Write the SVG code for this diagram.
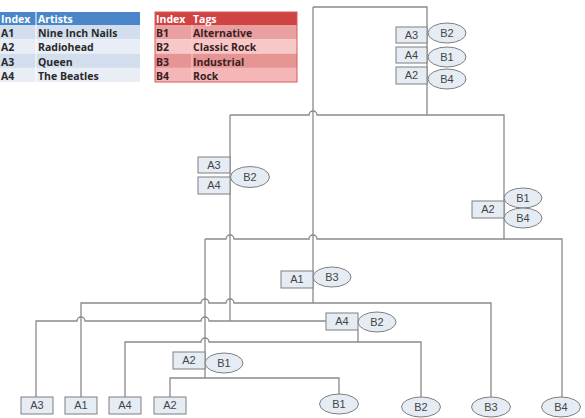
<svg xmlns="http://www.w3.org/2000/svg" width="585" height="418" viewBox="0 0 585 418">
<style>
.ln{fill:none;stroke:#8a8a8a;stroke-width:1.3}
.bx{fill:#e6ecf4;stroke:#7f7f7f;stroke-width:1}
.el{fill:#e6ecf4;stroke:#7f7f7f;stroke-width:1}
.t{font-family:"Liberation Sans",Arial,sans-serif;font-size:11px;fill:#444;text-anchor:middle}
.th{font-family:"Open Sans","Liberation Sans",sans-serif;font-size:10.5px;font-weight:bold}
</style>
<rect width="585" height="418" fill="#fff"/>
<g id="artists-table">
<rect x="0" y="12" width="140" height="13" fill="#4a86c8"/>
<rect x="0" y="25" width="140" height="14.3" fill="#d2deed"/>
<rect x="0" y="39.3" width="140" height="14.3" fill="#e9eef6"/>
<rect x="0" y="53.6" width="140" height="14.3" fill="#d2deed"/>
<rect x="0" y="67.9" width="140" height="14.1" fill="#e9eef6"/>
<line x1="36" y1="12" x2="36" y2="82" stroke="#fff" stroke-width="1"/>
<g class="th" fill="#fff"><text x="1" y="22.5">Index</text><text x="38" y="22.5">Artists</text></g>
<g class="th" fill="#2a2a2a">
<text x="1" y="36.5">A1</text><text x="38" y="36.5">Nine Inch Nails</text>
<text x="1" y="51">A2</text><text x="38" y="51">Radiohead</text>
<text x="1" y="65.5">A3</text><text x="38" y="65.5">Queen</text>
<text x="1" y="79.5">A4</text><text x="38" y="79.5">The Beatles</text>
</g>
</g>
<g id="tags-table">
<rect x="155" y="12" width="142" height="13" fill="#cf4443"/>
<rect x="155" y="25" width="142" height="14.3" fill="#eaa0a0"/>
<rect x="155" y="39.3" width="142" height="14.3" fill="#f8c8c8"/>
<rect x="155" y="53.6" width="142" height="14.3" fill="#e79494"/>
<rect x="155" y="67.9" width="142" height="14.1" fill="#f4b6b6"/>
<line x1="192" y1="25" x2="192" y2="82" stroke="#f7d0d0" stroke-width="1"/>
<rect x="155" y="12" width="142" height="70" fill="none" stroke="#d65a5a" stroke-width="1"/>
<g class="th" fill="#fff"><text x="156" y="22.5">Index</text><text x="193" y="22.5">Tags</text></g>
<g class="th" fill="#3a1f1f">
<text x="156" y="36.5">B1</text><text x="193" y="36.5">Alternative</text>
<text x="156" y="51">B2</text><text x="193" y="51">Classic Rock</text>
<text x="156" y="65.5">B3</text><text x="193" y="65.5">Industrial</text>
<text x="156" y="79.5">B4</text><text x="193" y="79.5">Rock</text>
</g>
</g>
<g id="connectors">
<path class="ln" d="M313,7 V303"/>
<path class="ln" d="M313,7 H427 V115"/>
<path class="ln" d="M230,115 H309 A4,4 0 0 1 317,115 H504 V239"/>
<path class="ln" d="M230,115 V321"/>
<path class="ln" d="M205,239 H226 A4,4 0 0 1 234,239 H309 A4,4 0 0 1 317,239 H562 V397"/>
<path class="ln" d="M205,239 V378"/>
<path class="ln" d="M81,397 V303 H201 A4,4 0 0 1 209,303 H226 A4,4 0 0 1 234,303 H491 V397"/>
<path class="ln" d="M36,397 V321 H77 A4,4 0 0 1 85,321 H201 A4,4 0 0 1 209,321 H326"/>
<path class="ln" d="M125,397 V342 H201 A4,4 0 0 1 209,342 H421 V397"/>
<path class="ln" d="M358,330 V342"/>
<path class="ln" d="M170,397 V378 H339 V394"/>
</g>
<g id="n-top">
<rect class="bx" x="396" y="27" width="31" height="16"/><text class="t" x="411.5" y="39">A3</text>
<rect class="bx" x="396" y="47" width="31" height="16"/><text class="t" x="411.5" y="59">A4</text>
<rect class="bx" x="396" y="67" width="31" height="17"/><text class="t" x="411.5" y="79">A2</text>
<ellipse class="el" cx="447" cy="33" rx="19" ry="10"/><text class="t" x="447" y="37">B2</text>
<ellipse class="el" cx="447" cy="57" rx="19" ry="10"/><text class="t" x="447" y="61">B1</text>
<ellipse class="el" cx="447" cy="79" rx="19" ry="10"/><text class="t" x="447" y="83">B4</text>
</g>
<g id="n-a3a4-b2">
<rect class="bx" x="198" y="157" width="32" height="16"/><text class="t" x="214" y="169">A3</text>
<rect class="bx" x="198" y="177" width="32" height="17"/><text class="t" x="214" y="189">A4</text>
<ellipse class="el" cx="250" cy="177" rx="19.5" ry="10.5"/><text class="t" x="250" y="181">B2</text>
</g>
<g id="n-a2-b1b4">
<rect class="bx" x="472" y="201" width="32" height="17"/><text class="t" x="488" y="213">A2</text>
<ellipse class="el" cx="523" cy="198" rx="19" ry="10"/><text class="t" x="523" y="202">B1</text>
<ellipse class="el" cx="523" cy="218" rx="19" ry="10"/><text class="t" x="523" y="222">B4</text>
</g>
<g id="n-a1-b3">
<rect class="bx" x="281" y="271" width="32" height="17"/><text class="t" x="297" y="283">A1</text>
<ellipse class="el" cx="332" cy="277" rx="19" ry="10"/><text class="t" x="332" y="281">B3</text>
</g>
<g id="n-a4-b2">
<rect class="bx" x="326" y="313" width="32" height="17"/><text class="t" x="342" y="325">A4</text>
<ellipse class="el" cx="377" cy="322" rx="19" ry="10"/><text class="t" x="377" y="326">B2</text>
</g>
<g id="n-a2-b1">
<rect class="bx" x="173" y="352" width="32" height="17"/><text class="t" x="189" y="364">A2</text>
<ellipse class="el" cx="224" cy="363" rx="19" ry="10"/><text class="t" x="224" y="367">B1</text>
</g>
<g id="leaf-a3"><rect class="bx" x="21" y="397" width="32" height="17"/><text class="t" x="37" y="409">A3</text></g>
<g id="leaf-a1"><rect class="bx" x="65" y="397" width="32" height="17"/><text class="t" x="81" y="409">A1</text></g>
<g id="leaf-a4"><rect class="bx" x="109" y="397" width="32" height="17"/><text class="t" x="125" y="409">A4</text></g>
<g id="leaf-a2"><rect class="bx" x="154" y="397" width="32" height="17"/><text class="t" x="170" y="409">A2</text></g>
<g id="leaf-b1"><ellipse class="el" cx="339" cy="404" rx="19.5" ry="10"/><text class="t" x="339" y="408">B1</text></g>
<g id="leaf-b2"><ellipse class="el" cx="421" cy="407" rx="19.5" ry="10"/><text class="t" x="421" y="411">B2</text></g>
<g id="leaf-b3"><ellipse class="el" cx="491" cy="407" rx="19.5" ry="10"/><text class="t" x="491" y="411">B3</text></g>
<g id="leaf-b4"><ellipse class="el" cx="561" cy="407" rx="19.5" ry="10"/><text class="t" x="561" y="411">B4</text></g>
</svg>
